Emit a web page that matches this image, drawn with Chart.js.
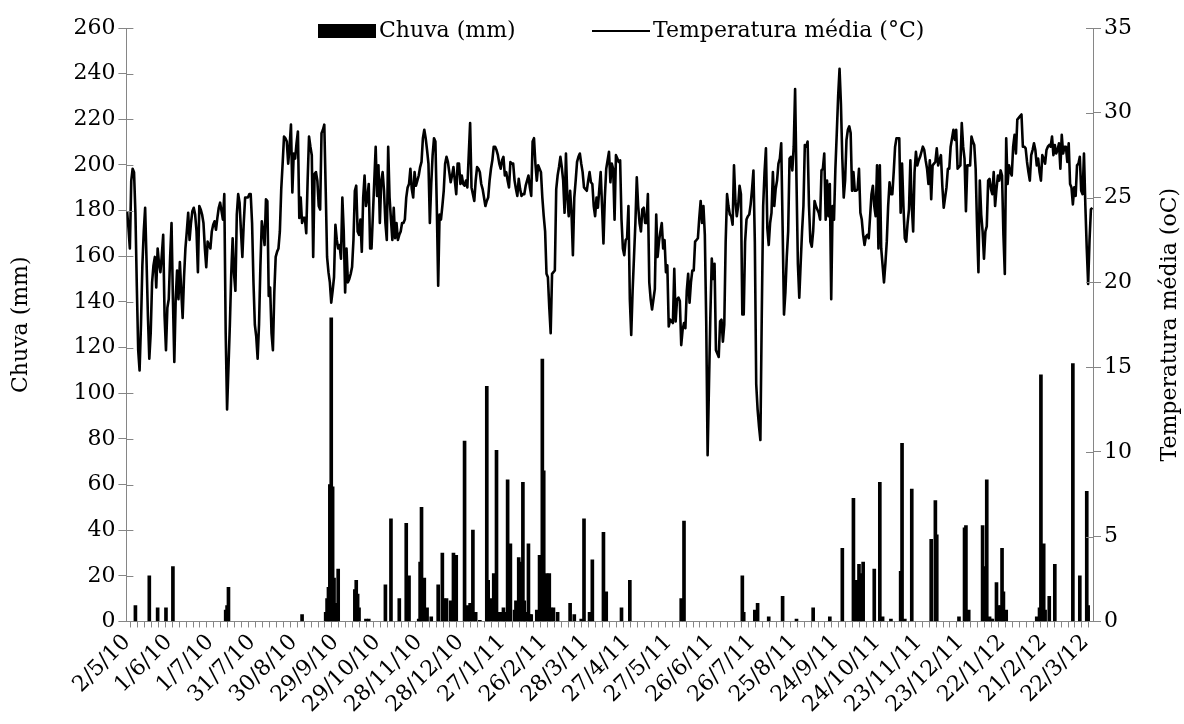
<!DOCTYPE html>
<html>
<head>
<meta charset="utf-8">
<script src="https://cdn.jsdelivr.net/npm/chart.js@4.4.1/dist/chart.umd.min.js"></script>
<style>
  html, body { margin: 0; padding: 0; background: #fff; }
  #wrap { width: 1184px; height: 724px; position: relative; }
</style>
</head>
<body>
<div id="wrap"><canvas id="chart"></canvas></div>
<script>
// x tick labels, one every 30 days from 2/5/10
const tickLabels = ['2/5/10', '1/6/10', '1/7/10', '31/7/10', '30/8/10', '29/9/10', '29/10/10', '28/11/10',
    '28/12/10', '27/1/11', '26/2/11', '28/3/11', '27/4/11', '27/5/11', '26/6/11', '26/7/11', '25/8/11',
    '24/9/11', '24/10/11', '23/11/11', '23/12/11', '22/1/12', '21/2/12', '22/3/12'];

const seriesNames = ['Chuva (mm)', 'Temperatura média (°C)'];

// daily mean temperature (°C), day 0 = 2/5/10
const tempC = [
    24.2, 23.2, 22.0, 26.0, 26.7, 26.5, 24.1, 19.8, 16.0, 14.8,
    17.5, 21.0, 23.0, 24.4, 21.3, 18.0, 15.5, 17.0, 20.0, 21.0,
    21.5, 19.7, 22.0, 21.1, 20.6, 21.6, 22.8, 18.0, 16.0, 18.5,
    19.0, 21.5, 23.5, 19.0, 15.3, 19.0, 20.7, 19.0, 21.2, 19.5,
    17.9, 20.3, 22.0, 23.0, 24.1, 22.5, 23.5, 24.2, 24.4, 24.0,
    23.0, 20.6, 24.5, 24.3, 24.0, 23.5, 22.0, 20.9, 22.4, 22.2,
    22.0, 23.0, 23.4, 23.6, 23.1, 23.8, 24.4, 24.7, 24.2, 23.7,
    25.2, 17.0, 12.5, 15.0, 17.5, 20.5, 22.6, 20.5, 19.5, 24.0,
    25.2, 24.7, 23.0, 21.5, 23.5, 25.0, 25.0, 25.0, 25.2, 25.2,
    23.5, 20.0, 17.5, 16.8, 15.5, 17.5, 21.0, 23.6, 23.0, 22.2,
    24.9, 24.8, 19.2, 19.7, 17.0, 16.0, 19.4, 21.5, 21.8, 22.0,
    23.0, 25.5, 27.0, 28.6, 28.5, 28.3, 27.0, 28.0, 29.3, 25.3,
    27.6, 27.3, 28.2, 28.9, 23.8, 25.0, 23.5, 23.8, 23.8, 22.9,
    26.0, 28.6, 28.0, 27.5, 21.5, 26.4, 26.5, 26.0, 24.5, 24.3,
    28.8, 29.0, 29.3, 25.5, 21.5, 20.6, 20.0, 18.8, 19.5, 20.3,
    23.4, 22.5, 22.0, 22.2, 21.4, 25.0, 23.0, 19.4, 22.0, 20.0,
    20.2, 20.5, 20.9, 22.5, 25.4, 25.7, 23.0, 22.8, 23.7, 21.8,
    25.0, 26.3, 24.5, 25.0, 25.8, 22.0, 22.0, 24.0, 26.0, 28.0,
    25.1, 26.9, 23.5, 26.0, 26.5, 25.4, 23.5, 22.5, 28.0, 25.0,
    23.7, 22.5, 24.4, 22.6, 23.5, 22.5, 22.8, 23.0, 23.5, 23.5,
    23.7, 25.0, 25.6, 25.8, 26.7, 25.5, 25.0, 26.5, 25.7, 26.0,
    26.3, 26.8, 27.1, 28.5, 29.0, 28.5, 27.8, 27.0, 23.5, 25.8,
    27.5, 28.5, 28.3, 24.5, 19.8, 24.0, 23.7, 24.5, 25.4, 27.0,
    27.4, 27.1, 26.5, 25.9, 26.3, 26.8, 26.0, 25.2, 27.0, 27.0,
    25.8, 26.3, 25.8, 25.7, 26.0, 25.6, 27.5, 29.4, 25.6, 25.2,
    24.8, 26.0, 26.8, 26.7, 26.5, 25.8, 25.5, 25.0, 24.5, 24.8,
    25.0, 26.0, 26.7, 27.2, 28.0, 28.0, 27.8, 27.5, 27.0, 26.7,
    27.2, 27.4, 26.3, 26.5, 26.0, 25.6, 27.1, 27.0, 27.0, 26.0,
    25.5, 25.1, 26.1, 25.5, 25.1, 25.2, 25.2, 25.7, 26.0, 26.3,
    25.6, 25.1, 28.3, 28.5, 27.0, 26.0, 26.9, 26.7, 26.5, 25.0,
    23.9, 23.0, 20.5, 20.3, 18.5, 17.0, 20.5, 20.6, 20.7, 25.5,
    26.3, 26.8, 27.4, 26.8, 26.0, 24.1, 27.6, 25.0, 23.9, 25.4,
    24.1, 21.6, 25.0, 26.0, 27.1, 27.4, 27.6, 27.0, 26.5, 25.6,
    25.5, 25.4, 26.0, 26.5, 25.9, 25.8, 24.5, 23.9, 25.0, 24.4,
    25.5, 26.5, 24.5, 22.3, 25.0, 26.7, 27.2, 27.7, 25.9, 27.0,
    26.7, 23.7, 27.5, 27.3, 27.1, 27.2, 23.7, 22.0, 21.6, 22.5,
    22.6, 24.5, 19.0, 16.9, 19.5, 21.5, 23.5, 26.2, 24.5, 23.5,
    23.0, 24.3, 24.4, 23.5, 23.5, 25.2, 20.0, 19.0, 18.4, 19.0,
    19.6, 24.0, 21.5, 22.4, 23.0, 23.5, 22.0, 22.5, 20.6, 21.0,
    17.4, 17.8, 17.7, 17.6, 20.8, 17.7, 19.0, 19.1, 18.9, 16.3,
    17.2, 17.6, 17.3, 19.5, 20.5, 18.8, 20.0, 20.7, 20.7, 22.4,
    22.5, 22.6, 23.8, 24.8, 23.5, 24.5, 22.8, 17.7, 9.8, 14.0,
    18.1, 21.4, 20.2, 21.1, 16.0, 15.8, 15.6, 17.7, 17.8, 16.5,
    17.5, 22.4, 25.2, 24.5, 24.0, 23.9, 23.4, 26.9, 24.8, 23.9,
    24.5, 25.7, 25.2, 18.1, 18.1, 22.4, 23.7, 23.9, 24.0, 24.6,
    25.5, 26.6, 22.4, 14.0, 12.5, 11.5, 10.7, 18.1, 24.5, 26.5,
    27.9, 23.2, 22.2, 23.5, 24.1, 26.5, 24.5, 25.5, 26.0, 27.0,
    27.3, 28.2, 23.3, 18.1, 19.4, 21.5, 23.0, 27.3, 27.4, 26.6,
    28.0, 31.4, 26.0, 21.1, 19.1, 21.1, 23.0, 24.5, 28.1, 28.0,
    28.3, 24.5, 22.4, 22.1, 23.0, 24.8, 24.5, 24.3, 24.1, 23.7,
    26.6, 26.7, 27.6, 23.7, 26.0, 23.9, 25.8, 19.0, 24.5, 23.7,
    26.7, 28.8, 31.0, 32.6, 30.5, 27.3, 25.0, 26.0, 28.4, 29.0,
    29.2, 28.8, 25.4, 26.5, 25.4, 25.4, 25.5, 26.7, 24.1, 23.7,
    22.8, 22.2, 22.7, 22.8, 22.6, 23.9, 25.2, 25.7, 24.5, 23.9,
    26.9, 22.0, 26.9, 22.0, 21.0, 20.0, 21.1, 22.4, 24.5, 25.9,
    25.2, 25.2, 26.5, 28.0, 28.5, 28.5, 28.5, 24.1, 27.0, 24.5,
    22.6, 22.4, 23.5, 24.3, 27.2, 24.5, 23.0, 26.5, 27.7, 26.9,
    27.2, 27.4, 27.7, 28.0, 27.8, 27.2, 26.7, 25.8, 27.2, 24.9,
    26.9, 27.0, 27.1, 27.9, 26.9, 27.2, 27.5, 25.7, 24.4, 25.0,
    25.6, 26.7, 26.7, 28.0, 28.5, 29.0, 28.4, 29.0, 26.7, 26.8,
    26.9, 29.4, 28.0, 27.3, 24.2, 26.9, 26.9, 26.9, 28.6, 28.3,
    28.1, 26.7, 23.3, 20.6, 26.0, 24.0, 23.0, 21.4, 23.0, 23.3,
    26.0, 26.1, 25.5, 25.2, 26.5, 24.5, 25.5, 26.3, 26.0, 26.6,
    26.3, 22.8, 20.5, 28.5, 25.8, 26.9, 26.5, 26.3, 28.0, 28.7,
    27.6, 29.6, 29.7, 29.8, 29.9, 28.0, 28.0, 27.9, 27.1, 26.5,
    26.0, 27.5, 27.8, 28.2, 27.8, 26.9, 27.3, 26.5, 26.0, 27.5,
    27.3, 27.0, 27.8, 28.0, 28.1, 28.0, 28.6, 27.5, 28.1, 27.6,
    27.8, 28.2, 26.7, 28.7, 27.6, 28.0, 28.0, 27.1, 28.2, 25.8,
    25.6, 24.6, 25.6, 25.1, 26.9, 27.0, 27.4, 25.4, 25.2, 27.6,
    24.5, 22.0, 19.9, 22.5, 24.3, 24.4
];

// rainy days (day index) and rainfall (mm)
const rainDay = [
    6, 16, 22, 28, 33, 71, 72, 73,
    126, 143, 144, 145, 146, 147, 148, 149, 150, 151, 152,
    164, 165, 166, 167, 172, 174,
    186, 190, 196, 201, 203, 210, 211, 212, 214, 216, 219,
    224, 227, 228, 230, 233, 235, 237, 243, 245, 247, 249, 251, 254, 259, 260, 262, 264,
    266, 267, 269, 271, 272, 274, 276, 279, 280, 282, 283, 285, 286, 287, 289, 290, 291,
    295, 297, 299, 300, 302, 304, 305, 307, 310, 319, 322, 327, 329, 333, 335, 343, 345,
    356, 362, 399, 401, 443,
    444, 452, 454, 462, 472, 482, 494, 506, 515, 523, 525, 527, 528, 530,
    538, 542, 544, 550, 557, 558, 560, 565, 579, 582, 583, 599, 603, 604, 606, 616, 618, 619, 621, 622,
    623, 626, 627, 629, 630, 631, 633, 655, 657, 658, 660, 661, 664, 668, 681, 686, 691, 692
];
const rainMm = [
    7, 20, 6, 6, 24, 5, 7, 15,
    3, 4, 10, 15, 60, 133, 59, 19, 8, 2, 23,
    14, 18, 12, 6, 1, 1,
    16, 45, 10, 43, 20, 1, 26, 50, 19, 6, 2,
    16, 30, 10, 10, 9, 30, 29, 79, 7, 8, 40, 4, 0.5, 103, 18, 10, 21,
    75, 4, 4, 6, 4, 62, 34, 5, 9, 28, 26, 61, 9, 4, 34, 3, 3,
    5, 29, 115, 66, 21, 21, 6, 6, 4, 8, 3, 1, 45, 4, 27, 39, 13,
    6, 18, 10, 44, 20,
    4, 5, 8, 2, 11, 1, 6, 2, 32, 54, 18, 25, 21, 26,
    23, 61, 2, 1, 22, 78, 1, 58, 36, 53, 38, 2, 41, 42, 5, 42, 24, 62, 2, 1,
    1, 17, 7, 7, 32, 13, 5, 2, 6, 108, 34, 5, 11, 25, 113, 20, 57, 7
];

const FONT = 'DejaVu Serif';
const AXIS_GREY = '#868686';

// minor tick every 5 days along the x axis
const xTicks = [];
for (let d = 0; d < tempC.length; d += 5) xTicks.push(d);

// tick marks that cross into the plot on both value axes
const innerTicks = {
    id: 'innerTicks',
    afterDraw(chart) {
        const ctx = chart.ctx;
        ctx.save();
        ctx.strokeStyle = AXIS_GREY;
        ctx.lineWidth = 1;
        ['y', 'y1'].forEach(id => {
            const s = chart.scales[id];
            const x0 = id === 'y' ? s.right : s.left;
            const dir = id === 'y' ? 1 : -1;
            s.ticks.forEach((t, i) => {
                const py = Math.round(s.getPixelForTick(i)) + 0.5;
                ctx.beginPath();
                ctx.moveTo(x0, py);
                ctx.lineTo(x0 + dir * 7, py);
                ctx.stroke();
            });
        });
        ctx.restore();
    }
};

// legend sitting on the top of the plot, and the right axis title read bottom-to-top
const legendAndTitle = {
    id: 'legendAndTitle',
    afterDraw(chart) {
        const ctx = chart.ctx;
        const area = chart.chartArea;
        ctx.save();
        ctx.font = '22px "' + FONT + '"';
        ctx.fillStyle = '#000';
        ctx.textBaseline = 'middle';
        ctx.fillRect(318, 24, 58, 14);
        ctx.fillText(seriesNames[0], 379, 31);
        ctx.strokeStyle = '#000';
        ctx.lineWidth = 2;
        ctx.beginPath();
        ctx.moveTo(592, 31);
        ctx.lineTo(650, 31);
        ctx.stroke();
        ctx.fillText(seriesNames[1], 653, 31);

        ctx.translate(1170, (area.top + area.bottom) / 2);
        ctx.rotate(-Math.PI / 2);
        ctx.textAlign = 'center';
        ctx.fillText('Temperatura média (oC)', 0, 0);
        ctx.restore();
    }
};

const tickFont = { family: FONT, size: 22 };

new Chart(document.getElementById('chart'), {
    type: 'bar',
    data: {
        datasets: [
            {
                type: 'bar',
                label: seriesNames[0],
                data: rainDay.map((d, i) => ({ x: d, y: rainMm[i] })),
                backgroundColor: '#000',
                borderWidth: 0,
                barThickness: 3,
                yAxisID: 'y',
                order: 2
            },
            {
                type: 'line',
                label: seriesNames[1],
                data: tempC.map((t, i) => ({ x: i, y: t })),
                borderColor: '#000',
                borderWidth: 2.6,
                pointRadius: 0,
                tension: 0,
                borderJoinStyle: 'round',
                yAxisID: 'y1',
                order: 1
            }
        ]
    },
    options: {
        responsive: true,
        maintainAspectRatio: false,
        animation: false,
        layout: { padding: { top: 28, right: 49, bottom: 4, left: 0 } },
        plugins: {
            legend: { display: false },
            tooltip: { enabled: false }
        },
        scales: {
            x: {
                type: 'linear',
                min: -0.5,
                max: tempC.length - 0.5,
                offset: false,
                afterBuildTicks: scale => {
                    scale.ticks = xTicks.map(v => ({ value: v }));
                },
                ticks: {
                    autoSkip: false,
                    minRotation: 45,
                    maxRotation: 45,
                    padding: 2,
                    color: '#000',
                    font: tickFont,
                    callback: v => (v % 30 === 0 ? tickLabels[v / 30] : '')
                },
                grid: { drawOnChartArea: false, tickLength: 6, color: AXIS_GREY },
                border: { color: AXIS_GREY }
            },
            y: {
                position: 'left',
                min: 0,
                max: 260,
                ticks: { stepSize: 20, color: '#000', font: tickFont, padding: 3 },
                title: {
                    display: true,
                    text: 'Chuva (mm)',
                    color: '#000',
                    font: tickFont,
                    padding: { top: 8, bottom: 36 }
                },
                grid: { drawOnChartArea: false, tickLength: 8, color: AXIS_GREY },
                border: { color: AXIS_GREY }
            },
            y1: {
                position: 'right',
                min: 0,
                max: 35,
                ticks: { stepSize: 5, color: '#000', font: tickFont, padding: 3 },
                grid: { drawOnChartArea: false, tickLength: 8, color: AXIS_GREY },
                border: { color: AXIS_GREY }
            }
        }
    },
    plugins: [innerTicks, legendAndTitle]
});
</script>
</body>
</html>
